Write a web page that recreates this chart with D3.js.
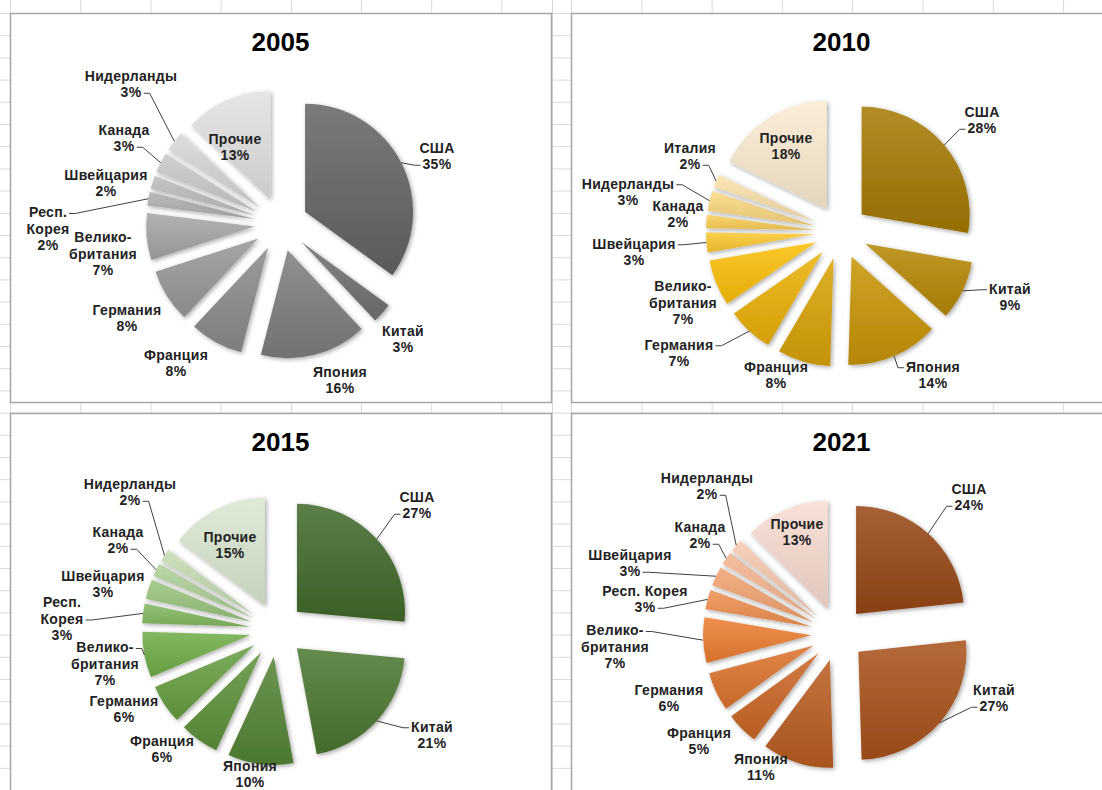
<!DOCTYPE html>
<html lang="ru">
<head>
<meta charset="UTF-8">
<title>Доли стран, 2005–2021</title>
<script src="https://d3js.org/d3.v7.min.js"></script>
<style>
  body { margin: 0; background: #fff; }
  svg text { font-family: Arial, "Liberation Sans", sans-serif; font-weight: bold; fill: #222; }
  .title { font-size: 26px; fill: #000; }
  .lbl { font-size: 14px; letter-spacing: 0.3px; }
</style>
</head>
<body>
<svg id="chart" width="1102" height="790"></svg>
<script>
// ---- data ----
const names2005 = ['США', 'Китай', 'Япония', 'Франция', 'Германия', 'Велико-\nбритания', 'Респ.\nКорея', 'Швейцария', 'Канада', 'Нидерланды', 'Прочие'];
const values2005 = [35, 3, 16, 8, 8, 7, 2, 2, 3, 3, 13];

const names2010 = ['США', 'Китай', 'Япония', 'Франция', 'Германия', 'Велико-\nбритания', 'Швейцария', 'Канада', 'Нидерланды', 'Италия', 'Прочие'];
const values2010 = [28, 9, 14, 8, 7, 7, 3, 2, 3, 2, 18];

const names2015 = ['США', 'Китай', 'Япония', 'Франция', 'Германия', 'Велико-\nбритания', 'Респ.\nКорея', 'Швейцария', 'Канада', 'Нидерланды', 'Прочие'];
const values2015 = [27, 21, 10, 6, 6, 7, 3, 3, 2, 2, 15];

const names2021 = ['США', 'Китай', 'Япония', 'Франция', 'Германия', 'Велико-\nбритания', 'Респ. Корея', 'Швейцария', 'Канада', 'Нидерланды', 'Прочие'];
const values2021 = [24, 27, 11, 5, 6, 7, 3, 3, 2, 2, 13];

// ---- layout (panel placement, pie centre, label placement, colours) ----
const R = 108, EXPLODE = 27;
const charts = [
  { year: '2005', names: names2005, values: values2005, left: 10, top: 13, cx: 271, cy: 211,
    palette: ['#646464', '#a5a5a5', '#e2e2e2'],
    labels: [[156, -68], [122, 115], [59, 156], [-105, 139], [-154, 94], [-178, 30], [-233, 5], [-175, -41], [-157, -86], [-150, -140], [-46, -77]],
    leaders: [0, 6, 8, 9], attach: {} },
  { year: '2010', names: names2010, values: values2010, left: 571, top: 13, cx: 270, cy: 219,
    palette: ['#a57903', '#fcbf08', '#fcebd2'],
    labels: [[141, -112], [169, 65], [92, 143], [-65, 143], [-162, 121], [-158, 71], [-207, 20], [-163, -18], [-213, -40], [-151, -76], [-55, -86]],
    leaders: [0, 1, 2, 4, 6, 8, 9], attach: { 8: 0 } },
  { year: '2015', names: names2015, values: values2015, left: 10, top: 413, cx: 267, cy: 217,
    palette: ['#42692a', '#70ad47', '#dae8d0'],
    labels: [[140, -125], [155, 105], [-27, 144], [-115, 119], [-153, 79], [-172, 34], [-215, -11], [-174, -46], [-159, -90], [-147, -138], [-47, -85]],
    leaders: [0, 1, 5, 6, 8, 9], attach: { 5: 0 } },
  { year: '2021', names: names2021, values: values2021, left: 571, top: 413, cx: 267, cy: 221,
    palette: ['#984716', '#ed7d31', '#f9dcd0'],
    labels: [[131, -137], [156, 64], [-77, 133], [-139, 107], [-169, 64], [-223, 13], [-193, -35], [-208, -71], [-138, -99], [-131, -148], [-41, -102]],
    leaders: [0, 1, 5, 6, 7, 8, 9], attach: { 5: 0 } }
];
const PANEL_W = 541, PANEL_H = 389;

const svg = d3.select('#chart');
const defs = svg.append('defs');

// soft shadow under slices
const shadow = defs.append('filter').attr('id', 'shadow')
  .attr('x', '-20%').attr('y', '-20%').attr('width', '140%').attr('height', '140%');
shadow.append('feDropShadow').attr('dx', 1.5).attr('dy', 1.5)
  .attr('stdDeviation', 2).attr('flood-color', '#000').attr('flood-opacity', 0.35);

// spreadsheet grid behind the charts
const gridCols = d3.range(8).map(k => 10.5 + 70.2 * k)
  .concat([552.5])
  .concat(d3.range(8).map(k => 571.5 + 70.3 * k));
const gridRows = d3.range(36).map(k => 13.5 + 22.2 * k);
const grid = svg.append('g').attr('stroke', '#d9d9d9').attr('stroke-width', 1);
grid.selectAll('.gv').data(gridCols).join('line')
  .attr('x1', d => d).attr('x2', d => d).attr('y1', 0).attr('y2', 790);
grid.selectAll('.gh').data(gridRows).join('line')
  .attr('x1', 0).attr('x2', 1102).attr('y1', d => d).attr('y2', d => d);

const pie = d3.pie().sort(null).value(d => d.value);
const arc = d3.arc().innerRadius(0).outerRadius(R);

charts.forEach((c, ci) => {
  const data = c.names.map((n, i) => ({ name: n, value: c.values[i] }));
  const n = data.length;
  const color = d3.scaleLinear()
    .domain([0, 5, n - 1])
    .range(c.palette)
    .interpolate(d3.interpolateRgb);

  const panel = svg.append('g').attr('transform', `translate(${c.left},${c.top})`);
  panel.append('rect')
    .attr('x', 0.5).attr('y', 0.5)
    .attr('width', PANEL_W).attr('height', PANEL_H)
    .attr('fill', '#fff').attr('stroke', '#a6a6a6').attr('stroke-width', 1.5);

  panel.append('text').attr('class', 'title')
    .attr('x', PANEL_W / 2).attr('y', 38)
    .attr('text-anchor', 'middle')
    .text(c.year);

  const g = panel.append('g').attr('transform', `translate(${c.cx},${c.cy})`);
  const arcs = pie(data);

  // one vertical gradient per slice, lighter at the top
  arcs.forEach((a, i) => {
    const base = color(i);
    const grad = defs.append('linearGradient')
      .attr('id', `g${ci}_${i}`)
      .attr('x1', 0).attr('y1', 0).attr('x2', 0).attr('y2', 1);
    grad.append('stop').attr('offset', '0%').attr('stop-color', d3.interpolateRgb(base, '#fff')(0.14));
    grad.append('stop').attr('offset', '100%').attr('stop-color', d3.interpolateRgb(base, '#000')(0.1));
  });

  const mid = a => (a.startAngle + a.endAngle) / 2;

  g.selectAll('path.slice').data(arcs).join('path')
    .attr('class', 'slice')
    .attr('transform', a => `translate(${Math.sin(mid(a)) * EXPLODE},${-Math.cos(mid(a)) * EXPLODE})`)
    .attr('d', arc)
    .attr('fill', (a, i) => `url(#g${ci}_${i})`)
    .attr('filter', 'url(#shadow)');

  // labels
  const lineH = 16.5;
  arcs.forEach((a, i) => {
    const lines = a.data.name.split('\n').concat([a.data.value + '%']);
    const [lx, ly] = c.labels[i];
    const y0 = ly - (lines.length - 1) * lineH / 2;
    const tg = g.append('g');
    const texts = lines.map((t, k) => tg.append('text').attr('class', 'lbl')
      .attr('x', lx).attr('y', y0 + k * lineH)
      .attr('dy', '0.35em')
      .attr('text-anchor', 'middle')
      .text(t));

    if (c.leaders.includes(i)) {
      const m = mid(a);
      const tx = Math.sin(m) * (R + EXPLODE), ty = -Math.cos(m) * (R + EXPLODE);
      // attach to the text line closest in height to the slice, unless set
      let best = 0;
      lines.forEach((t, k) => {
        if (Math.abs(y0 + k * lineH - ty) < Math.abs(y0 + best * lineH - ty)) best = k;
      });
      if (c.attach[i] !== undefined) best = c.attach[i];
      const bb = texts[best].node().getBBox();
      const sy = y0 + best * lineH + 1;
      let sx, stub;
      if (tx > bb.x + bb.width) { sx = bb.x + bb.width + 2; stub = 6; }
      else { sx = bb.x - 2; stub = -6; }
      g.append('path')
        .attr('d', `M${sx},${sy}H${sx + stub}L${tx},${ty}`)
        .attr('fill', 'none')
        .attr('stroke', '#404040')
        .attr('stroke-width', 1);
    }
  });
});
</script>
</body>
</html>
